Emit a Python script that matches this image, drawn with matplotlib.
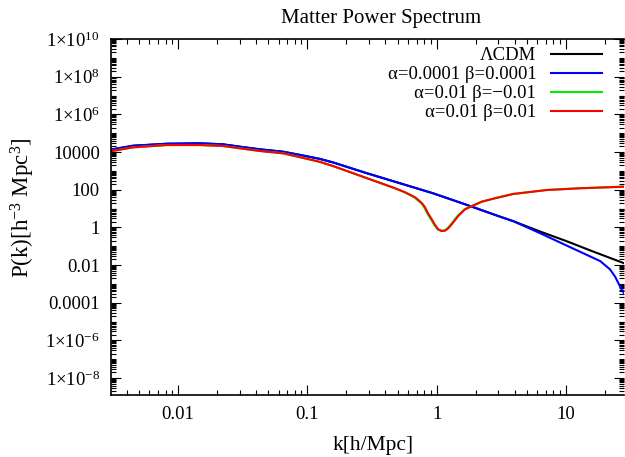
import matplotlib.pyplot as plt
from matplotlib.ticker import LogLocator, FixedLocator, NullFormatter

plt.rcParams['font.family'] = ['Liberation Serif', 'DejaVu Serif']
plt.rcParams['mathtext.fontset'] = 'custom'
plt.rcParams['mathtext.rm'] = 'Liberation Serif'
plt.rcParams['mathtext.it'] = 'Liberation Serif:italic'

# LCDM
k_lcdm = [0.00303, 0.00449, 0.00822, 0.0148, 0.0223, 0.0302, 0.0431, 0.0649,
          0.0879, 0.125, 0.158, 0.290, 0.521, 0.938, 1.72, 3.09, 3.90, 6.31,
          10.0, 16.0, 28.1]
p_lcdm = [13500, 21580, 27540, 28970, 25590, 19100, 13900, 10370,
          7000, 4300, 2800, 741, 219, 64.4, 15.4, 3.7, 2.15, 0.60,
          0.19, 0.054, 0.0125]

# alpha=0.0001 beta=0.0001
k_blue = [0.00303, 0.00449, 0.00822, 0.0148, 0.0223, 0.0302, 0.0431, 0.0649,
          0.0879, 0.125, 0.158, 0.290, 0.521, 0.938, 1.72, 3.09, 3.90, 6.31,
          11.35, 18.4, 21.9, 24.0, 26.2, 28.6]
p_blue = [13500, 21580, 27540, 28970, 25590, 19100, 13900, 10370,
          7000, 4300, 2800, 741, 219, 64.4, 15.4, 3.7, 2.15, 0.49,
          0.075, 0.0162, 0.0059, 0.0024, 0.00072, 0.00026]

# alpha=0.01 beta=0.01
k_red = [0.00303, 0.00449, 0.00822, 0.0148, 0.0223, 0.0302, 0.0431, 0.0649,
         0.0879, 0.125, 0.158, 0.290, 0.477, 0.570, 0.681, 0.721, 0.771,
         0.813, 0.857, 0.916, 0.972, 1.03, 1.094, 1.161, 1.231, 1.309,
         1.39, 1.47, 1.66, 1.88, 2.24, 2.83, 3.90, 7.14, 12.85, 28.1]
p_red = [11000, 17740, 23500, 23500, 20800, 15700, 11300, 8530,
         5300, 3000, 1800, 403, 119, 72.8, 39.5, 28.4, 19.0,
         11.6, 5.60, 2.69, 1.34, 0.79, 0.644, 0.668, 0.895, 1.46,
         2.47, 4.03, 9.1, 13.6, 23.1, 35.0, 59.2, 96.4, 119, 144]

# alpha=0.01 beta=-0.01
k_green = [0.00303, 0.00449, 0.00822, 0.0148, 0.0223, 0.0302, 0.0431, 0.0649,
           0.0879, 0.125, 0.158, 0.290, 0.477, 0.565, 0.672, 0.711, 0.760,
           0.801, 0.845, 0.903, 0.958, 1.015, 1.078, 1.144, 1.213, 1.290,
           1.37, 1.45, 1.64, 1.86, 2.22, 2.81, 3.90, 7.14, 12.85, 28.1]
p_green = [11000, 17740, 23500, 23500, 20800, 15700, 11300, 8530,
           5300, 3000, 1800, 403, 119, 72.8, 39.5, 28.4, 19.0,
           11.6, 5.60, 2.69, 1.34, 0.79, 0.644, 0.668, 0.895, 1.46,
           2.47, 4.03, 9.1, 13.6, 23.1, 35.0, 59.2, 96.4, 119, 146]

y_ticks = [1e10, 1e8, 1e6, 1e4, 1e2, 1, 1e-2, 1e-4, 1e-6, 1e-8]
y_labels = ['1×10$^{10}$', '1×10$^{8}$', '1×10$^{6}$', '10000', '100', '1',
            '0.01', '0.0001', '1×10$^{-6}$', '1×10$^{-8}$']
x_ticks = [0.01, 0.1, 1, 10]
x_labels = ['0.01', '0.1', '1', '10']

fig = plt.figure(figsize=(6.25, 4.57), dpi=100)
ax = fig.add_axes([111 / 625, 1 - 395 / 457, 513 / 625, 356 / 457])

ax.plot(k_lcdm, p_lcdm, color='black', lw=1.5, label='ΛCDM')
ax.plot(k_blue, p_blue, color='#0000ff', lw=1.5, label='α=0.0001 β=0.0001')
ax.plot(k_green, p_green, color='#00ee00', lw=1.5, label='α=0.01 β=−0.01')
ax.plot(k_red, p_red, color='#ff0000', lw=1.5, label='α=0.01 β=0.01')

ax.set_xscale('log')
ax.set_yscale('log')
ax.set_xlim(0.00303, 28.1)
ax.set_ylim(1.26e-9, 1e10)

ax.xaxis.set_major_locator(FixedLocator(x_ticks))
ax.set_xticklabels(x_labels)
ax.xaxis.set_minor_locator(LogLocator(base=10, subs=range(2, 10), numticks=20))
ax.xaxis.set_minor_formatter(NullFormatter())
ax.yaxis.set_major_locator(FixedLocator(y_ticks))
ax.set_yticklabels(y_labels)
ax.yaxis.set_minor_locator(LogLocator(base=10, subs=range(1, 10), numticks=40))
ax.yaxis.set_minor_formatter(NullFormatter())

ax.tick_params(which='both', direction='in', top=True, right=True,
               labelsize=13.5, width=0.8, color='black')
ax.tick_params(which='major', length=7, pad=8)
ax.tick_params(which='minor', length=3.5)
ax.spines['right'].set_visible(False)
for s in ['left', 'bottom', 'top']:
    ax.spines[s].set_linewidth(1.2)

ax.set_xlabel('k[h/Mpc]', fontsize=15.5)
ax.set_ylabel('P(k)[h$^{-3}$ Mpc$^3$]', fontsize=16.5)
ax.xaxis.set_label_coords(0.511, -0.115)
ax.yaxis.set_label_coords(-0.145, 0.525)
fig.text(381 / 625, 1 - 19 / 457, 'Matter Power Spectrum', fontsize=15,
         ha='center', va='center')

ax.legend(loc='upper right', bbox_to_anchor=(602 / 625, 1 - 47 / 457),
          bbox_transform=fig.transFigure, frameon=False, markerfirst=False,
          fontsize=13.5, handlelength=2.7, handletextpad=0.8, labelspacing=0.1,
          borderpad=0, borderaxespad=0)

plt.savefig('out.png', dpi=100)
